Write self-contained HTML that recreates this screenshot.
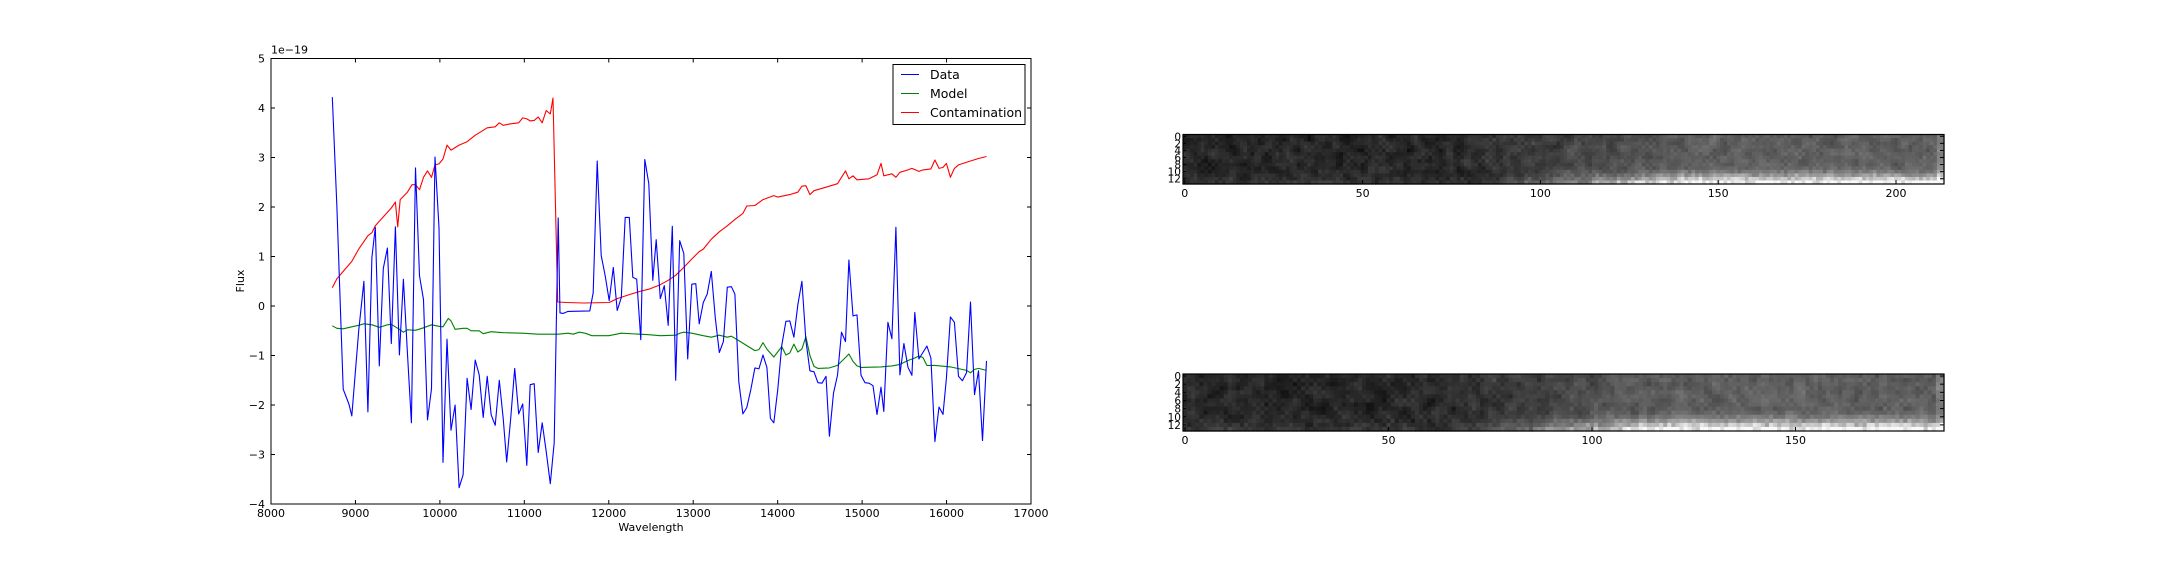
<!DOCTYPE html>
<html><head><meta charset="utf-8"><style>
html,body{margin:0;padding:0;background:#fff;}
svg{display:block;font-family:"DejaVu Sans","Liberation Sans",sans-serif;}
</style></head><body>
<svg id="fig" width="2160" height="576" viewBox="0 0 2160 576" xmlns="http://www.w3.org/2000/svg"></svg>
<script>
const wlData=[8726,8780,8855,8923,8957,9039,9100,9147,9195,9235,9283,9330,9378,9425,9473,9520,9568,9615,9663,9711,9758,9806,9853,9901,9942,9989,10037,10084,10132,10180,10227,10275,10322,10370,10418,10465,10513,10560,10608,10655,10703,10750,10791,10838,10886,10933,10981,11029,11069,11117,11164,11212,11259,11307,11354,11401,11422,11462,11517,11775,11815,11863,11910,11958,12005,12053,12100,12148,12195,12243,12284,12331,12379,12426,12474,12521,12562,12610,12657,12704,12752,12793,12840,12888,12935,12983,13030,13071,13119,13166,13214,13262,13309,13357,13404,13452,13493,13540,13588,13635,13683,13730,13778,13826,13873,13914,13954,14002,14049,14097,14144,14192,14239,14287,14334,14382,14430,14477,14525,14572,14613,14661,14708,14756,14803,14844,14892,14939,14987,15034,15081,15129,15176,15224,15257,15305,15353,15400,15447,15495,15543,15590,15624,15672,15720,15767,15815,15862,15910,15958,15998,16045,16093,16141,16188,16236,16283,16331,16378,16426,16473];
const fluxData=[4.22,2.0,-1.68,-1.98,-2.22,-0.5,0.5,-2.14,0.98,1.59,-1.21,0.76,1.17,-0.76,1.6,-0.99,0.54,-0.94,-2.36,2.79,0.61,0.13,-2.3,-1.67,3.01,1.58,-3.16,-0.67,-2.51,-2.0,-3.67,-3.41,-1.46,-2.09,-1.09,-1.39,-2.25,-1.42,-2.2,-2.41,-1.5,-2.27,-3.15,-2.27,-1.26,-2.18,-1.98,-3.22,-1.59,-1.57,-2.96,-2.36,-2.94,-3.59,-2.76,1.78,-0.14,-0.15,-0.11,-0.10,0.27,2.93,1.02,0.61,0.11,0.78,-0.09,0.17,1.79,1.79,0.58,0.54,-0.68,2.96,2.47,0.52,1.34,0.15,0.41,-0.39,1.61,-1.5,1.32,1.06,-1.07,0.44,0.45,-0.36,0.07,0.24,0.7,-0.24,-0.94,-0.72,0.38,0.39,0.24,-1.53,-2.18,-2.05,-1.68,-1.25,-1.27,-0.99,-1.24,-2.27,-2.36,-1.68,-0.79,-0.31,-0.3,-0.63,0.02,0.5,-0.7,-1.31,-1.33,-1.55,-1.56,-1.42,-2.63,-1.76,-1.4,-0.53,-0.72,0.93,-0.2,-0.18,-1.4,-1.55,-1.56,-1.61,-2.19,-1.64,-2.13,-0.33,-0.66,1.59,-1.39,-0.76,-1.24,-1.4,-0.13,-1.07,-0.94,-0.81,-1.05,-2.74,-2.04,-2.19,-1.46,-0.22,-0.33,-1.42,-1.51,-1.35,0.08,-1.79,-1.31,-2.72,-1.11];
const wlCont=[8726,8780,8855,8957,9039,9100,9147,9195,9235,9330,9425,9473,9500,9530,9615,9670,9711,9758,9806,9853,9901,9942,9989,10037,10084,10132,10227,10322,10418,10465,10560,10655,10703,10750,10838,10933,10981,11029,11069,11117,11164,11212,11259,11307,11340,11395,11500,11700,12005,12100,12243,12379,12474,12610,12704,12793,12888,12983,13071,13119,13214,13309,13404,13493,13588,13635,13730,13826,13954,14002,14144,14239,14287,14334,14382,14430,14572,14708,14803,14844,14892,14939,15081,15176,15224,15257,15353,15400,15447,15543,15590,15672,15720,15815,15862,15910,15958,15998,16045,16093,16141,16283,16378,16473];
const contData=[0.37,0.55,0.7,0.9,1.15,1.3,1.42,1.48,1.62,1.8,1.98,2.1,1.6,2.15,2.3,2.45,2.45,2.35,2.6,2.73,2.6,2.85,2.87,2.97,3.25,3.15,3.25,3.32,3.45,3.5,3.6,3.62,3.7,3.65,3.68,3.7,3.8,3.78,3.74,3.75,3.82,3.7,3.95,3.88,4.2,0.08,0.07,0.06,0.07,0.15,0.23,0.3,0.34,0.43,0.52,0.62,0.78,0.95,1.1,1.15,1.35,1.5,1.62,1.75,1.87,2.02,2.03,2.15,2.23,2.2,2.25,2.3,2.42,2.43,2.25,2.33,2.4,2.47,2.73,2.57,2.63,2.55,2.57,2.65,2.88,2.63,2.67,2.6,2.7,2.75,2.78,2.72,2.75,2.77,2.95,2.78,2.8,2.88,2.6,2.78,2.85,2.93,2.98,3.02];
const wlModel=[8726,8780,8855,8957,9039,9100,9195,9283,9378,9425,9520,9568,9615,9711,9806,9901,9989,10037,10100,10132,10180,10275,10322,10370,10465,10513,10608,10750,10981,11164,11401,11517,11580,11650,11720,11800,12000,12148,12474,12610,12793,12840,12888,12983,13119,13214,13309,13404,13452,13540,13635,13730,13778,13826,13873,13954,14049,14097,14144,14192,14239,14287,14334,14382,14430,14477,14613,14708,14803,14844,14892,14939,14987,15224,15353,15447,15543,15624,15672,15720,15767,15862,16045,16236,16283,16331,16378,16473];
const modelData=[-0.4,-0.45,-0.46,-0.42,-0.39,-0.36,-0.38,-0.43,-0.38,-0.37,-0.47,-0.53,-0.48,-0.49,-0.44,-0.38,-0.41,-0.42,-0.25,-0.3,-0.47,-0.45,-0.45,-0.5,-0.5,-0.56,-0.52,-0.54,-0.55,-0.57,-0.57,-0.55,-0.57,-0.53,-0.55,-0.6,-0.6,-0.55,-0.58,-0.6,-0.59,-0.55,-0.53,-0.55,-0.6,-0.63,-0.59,-0.63,-0.61,-0.7,-0.8,-0.9,-0.88,-0.74,-0.87,-1.03,-0.82,-0.99,-0.95,-0.77,-0.93,-0.87,-0.62,-1.0,-1.22,-1.26,-1.25,-1.2,-1.04,-0.97,-1.12,-1.21,-1.24,-1.23,-1.21,-1.18,-1.1,-1.05,-1.01,-1.04,-1.2,-1.2,-1.23,-1.3,-1.35,-1.28,-1.26,-1.3];
const xTicks=[8000,9000,10000,11000,12000,13000,14000,15000,16000,17000];
const yTicks=[-4,-3,-2,-1,0,1,2,3,4,5];
const yTickLabels=["\u22124","\u22123","\u22122","\u22121","0","1","2","3","4","5"];
const legendLabels=["Data","Model","Contamination"];
const seriesColors=["#0000ff","#008000","#ff0000"];
const topCols=214, botCols=187, nRows=14;
const topXTicks=[0,50,100,150,200], botXTicks=[0,50,100,150];
const rowTicks=[0,2,4,6,8,10,12];

const NS="http://www.w3.org/2000/svg";
const fig=document.getElementById('fig');
function mk(tag,attrs,parent,txt){const e=document.createElementNS(NS,tag);for(const k in attrs)e.setAttribute(k,attrs[k]);if(txt!==undefined)e.textContent=txt;(parent||fig).appendChild(e);return e;}

const L=271,R=1031,T=58.5,B=504;
const sx=v=>L+(v-8000)/9000*(R-L);
const sy=v=>B-(v+4)/9*(B-T);
const gMain=mk('g',{});


const lineG=mk('g',{},gMain);
function series(xs,ys,color,name){
  const d=xs.map((x,i)=>(i?'L':'M')+sx(x).toFixed(1)+' '+sy(ys[i]).toFixed(1)).join('');
  const p=mk('path',{d:d,fill:'none',stroke:color,'stroke-width':1.1,'stroke-linejoin':'round'},lineG);
  
  
}
series(wlCont,contData,seriesColors[2],'contamination-line');
series(wlModel,modelData,seriesColors[1],'model-line');
series(wlData,fluxData,seriesColors[0],'data-line');
const frame=mk('rect',{x:L,y:T,width:R-L,height:B-T,fill:'none',stroke:'#000','stroke-width':1},gMain);


xTicks.forEach(v=>{
  const x=sx(v);
  mk('line',{x1:x,x2:x,y1:B,y2:B-4,stroke:'#000'},gMain);
  mk('line',{x1:x,x2:x,y1:T,y2:T+4,stroke:'#000'},gMain);
  const t=mk('text',{x:x,y:B+13,'font-size':11,'text-anchor':'middle'},gMain,String(v));
  
  
});
yTicks.forEach((v,i)=>{
  const y=sy(v);
  mk('line',{x1:L,x2:L+4,y1:y,y2:y,stroke:'#000'},gMain);
  mk('line',{x1:R,x2:R-4,y1:y,y2:y,stroke:'#000'},gMain);
  const t=mk('text',{x:L-6,y:y+4,'font-size':11,'text-anchor':'end'},gMain,yTickLabels[i]);
  
  
});
const off=mk('text',{x:L,y:T-5,'font-size':11},gMain,'1e\u221219');


const xl=mk('text',{x:651,y:531,'font-size':11,'text-anchor':'middle'},gMain,'Wavelength');


const yl=mk('text',{x:244,y:281,'font-size':11,'text-anchor':'middle',transform:'rotate(-90 244 281)'},gMain,'Flux');


const lg=mk('g',{},gMain);


mk('rect',{x:893,y:64.5,width:132,height:60,fill:'#fff',stroke:'#000','stroke-width':1},lg);
legendLabels.forEach((lab,i)=>{
  const y=74.5+i*19;
  const e=mk('g',{},lg);
  
  
  mk('line',{x1:901,x2:919,y1:y,y2:y,stroke:seriesColors[i],'stroke-width':1.1},e);
  mk('text',{x:930,y:y+4.5,'font-size':12.5},e,lab);
});

function hash(a,b,s){let h=(a*374761393+b*668265263+s*982451653)|0;h=(h^(h>>>13))*1274126177|0;return ((h^(h>>>16))>>>0)/4294967296;}
function noise(c,r,s){
  return (hash(c,r,s)+hash(c+1,r,s)+hash(c,r+1,s)+hash(c-1,r,s)+hash(c,r-1,s))/5;
}
function heatmap(x0,y0,x1,y1,cols,ticks,seed,name,brightStart){
  const g=mk('g',{});
  
  
  const cw=(x1-x0)/cols, rh=(y1-y0)/nRows;
  for(let c=0;c<cols;c++){
    let base=40+Math.max(0,Math.min(1,(c-brightStart*0.85)/(cols*0.3)))*55;
    for(let r=0;r<nRows;r++){
      let v=base+(noise(c,r,seed)-0.5)*65;
      if(r>=9){const k=(r-8)/5;const bright=Math.max(0,Math.min(1,(c-brightStart)/(cols*0.25)));v+=k*k*(10+bright*150)*(0.7+0.6*hash(c,r,seed+7));}
      if(c>=cols-2) v+=30;
      v=Math.max(0,Math.min(250,Math.round(v)));
      mk('rect',{x:(x0+c*cw).toFixed(2),y:(y0+r*rh).toFixed(2),width:(cw+0.6).toFixed(2),height:(rh+0.6).toFixed(2),fill:`rgb(${v},${v},${v})`},g);
    }
  }
  mk('rect',{x:x0,y:y0,width:x1-x0,height:y1-y0,fill:'none',stroke:'#000','stroke-width':1.2},g);
  ticks.forEach(v=>{
    const x=x0+(v+0.5)*cw;
    mk('line',{x1:x,x2:x,y1:y1,y2:y1-4,stroke:'#000'},g);
    const t=mk('text',{x:x,y:y1+13,'font-size':11,'text-anchor':'middle'},g,String(v));
    
    
  });
  rowTicks.forEach(v=>{
    const y=y0+(v+0.5)*rh;
    mk('line',{x1:x0,x2:x0+3,y1:y,y2:y,stroke:'#000'},g);
    mk('line',{x1:x1,x2:x1-4,y1:y,y2:y,stroke:'#000'},g);
    const t=mk('text',{x:x0-2,y:y+4,'font-size':10.5,'text-anchor':'end'},g,String(v));
    
    
  });
}
heatmap(1183,134.5,1944,184,topCols,topXTicks,3,'top-heatmap',90);
heatmap(1183,374,1944,431,botCols,botXTicks,11,'bottom-heatmap',72);
</script>
</body></html>
